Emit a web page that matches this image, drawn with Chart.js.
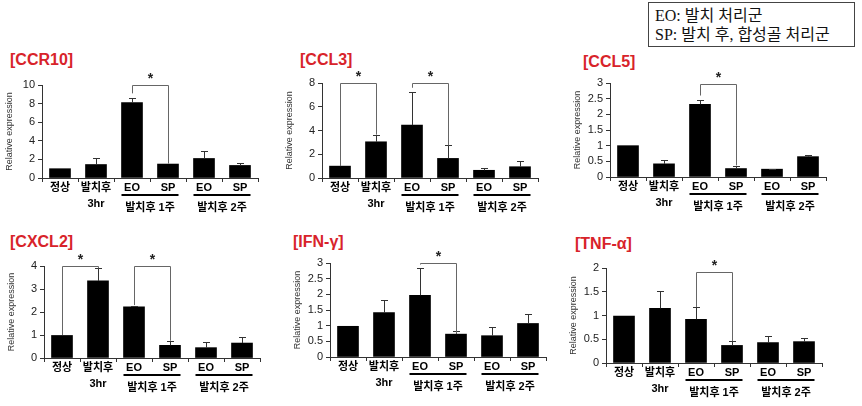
<!DOCTYPE html>
<html>
<head>
<meta charset="utf-8">
<script src="https://cdn.jsdelivr.net/npm/chart.js@4.4.0/dist/chart.umd.min.js"></script>
<style>
  body { margin: 0; background: #fff; }
  #wrap { position: relative; width: 862px; height: 406px; overflow: hidden; }
  #wrap canvas { position: absolute; }
  .ttl { position: absolute; color: #d8232a; font: bold 16px 'Liberation Sans', Arial, sans-serif; line-height: 1; white-space: nowrap; }
  #legendBox {
    position: absolute; left: 648px; top: 2px; width: 199px; height: 39px;
    border: 1px solid #444; padding: 3px 0 1px 6px;
    font: 16px 'Liberation Serif', 'Noto Sans CJK KR', serif; line-height: 19px; color: #111;
    white-space: nowrap;
  }
</style>
</head>
<body>
<div id="wrap">
  <div id="legendBox">EO: 발치 처리군<br>SP: 발치 후, 합성골 처리군</div>
  <div class="ttl" style="left:10px;top:52px">[CCR10]</div>
  <div class="ttl" style="left:300px;top:52px">[CCL3]</div>
  <div class="ttl" style="left:583px;top:54px">[CCL5]</div>
  <div class="ttl" style="left:10px;top:234px">[CXCL2]</div>
  <div class="ttl" style="left:293px;top:234px">[IFN-γ]</div>
  <div class="ttl" style="left:575px;top:236px">[TNF-α]</div>
</div>
<script>
// categories on every x axis, groups are underlined below
const categories = ['정상', ['발치후', '3hr'], 'EO', 'SP', 'EO', 'SP'];
const groupLabels = ['발치후 1주', '발치후 2주'];

// means and upper error bars
const ccr10Mean = [1.0, 1.45, 8.1, 1.5, 2.1, 1.35];
const ccr10Err  = [0, 0.75, 0.5, 0, 0.75, 0.3];
const ccl3Mean  = [1.0, 3.05, 4.45, 1.65, 0.65, 0.95];
const ccl3Err   = [0, 0.6, 2.8, 1.1, 0.2, 0.5];
const ccl5Mean  = [1.0, 0.42, 2.32, 0.27, 0.25, 0.65];
const ccl5Err   = [0, 0.13, 0.13, 0.08, 0.02, 0.04];
const cxcl2Mean = [0.98, 3.35, 2.22, 0.55, 0.45, 0.65];
const cxcl2Err  = [0, 0.55, 0.05, 0.2, 0.25, 0.27];
const ifngMean  = [0.98, 1.42, 1.97, 0.73, 0.68, 1.07];
const ifngErr   = [0, 0.4, 0.87, 0.1, 0.29, 0.3];
const tnfaMean  = [0.99, 1.15, 0.92, 0.37, 0.43, 0.45];
const tnfaErr   = [0, 0.37, 0.25, 0.09, 0.13, 0.08];

// significance brackets: [from bar, to bar, bracket level, left leg end, right leg end]
const ccr10Sig = [[2, 3, 10, 9.1, 1.55]];
const ccl3Sig  = [[0, 1, 8, 1.0, 3.65], [2, 3, 8, 7.6, 2.75]];
const ccl5Sig  = [[2, 3, 2.97, 2.6, 0.37]];
const cxcl2Sig = [[0, 1, 4, 1.0, 3.9], [2, 3, 4, 2.3, 0.75]];
const ifngSig  = [[2, 3, 3, 2.95, 0.75]];
const tnfaSig  = [[2, 3, 1.92, 1.18, 0.46]];

// y axis [max, step]
const yAxes = [[10, 2], [8, 2], [3, 0.5], [4, 1], [3, 0.5], [2, 0.5]];

const series = [
    [ccr10Mean, ccr10Err, ccr10Sig],
    [ccl3Mean, ccl3Err, ccl3Sig],
    [ccl5Mean, ccl5Err, ccl5Sig],
    [cxcl2Mean, cxcl2Err, cxcl2Sig],
    [ifngMean, ifngErr, ifngSig],
    [tnfaMean, tnfaErr, tnfaSig],
];

// where each plot area sits on the page: axis left, plot top, plot height
const boxes = [[42, 85, 93], [322, 83, 95], [610, 83, 94], [44, 266, 92], [330, 263, 94], [606, 268, 95]];

Chart.defaults.font.family = "'Liberation Sans', 'Noto Sans CJK KR', Arial, sans-serif";

const extras = {
    id: 'extras',
    afterDatasetsDraw(chart) {
        const ctx = chart.ctx;
        const x = chart.scales.x, y = chart.scales.y;
        const bars = chart.getDatasetMeta(0).data;
        const { mean, err, sig } = chart.options.plugins.extras;
        ctx.save();
        // error bars (upper half only)
        ctx.strokeStyle = '#333';
        ctx.lineWidth = 1;
        mean.forEach((m, i) => {
            if (!err[i]) return;
            const px = Math.round(x.getPixelForValue(i)) + 0.5;
            const yt = Math.round(y.getPixelForValue(m + err[i])) + 0.5;
            const yb = y.getPixelForValue(m);
            ctx.beginPath();
            ctx.moveTo(px, yb);
            ctx.lineTo(px, yt);
            ctx.moveTo(px - 3.5, yt);
            ctx.lineTo(px + 3.5, yt);
            ctx.stroke();
        });
        // brackets with stars
        ctx.strokeStyle = '#666';
        sig.forEach(s => {
            const x1 = Math.round(x.getPixelForValue(s[0])) + 0.5;
            const x2 = Math.round(x.getPixelForValue(s[1])) + 0.5;
            const yl = Math.round(y.getPixelForValue(s[2])) + 0.5;
            ctx.beginPath();
            ctx.moveTo(x1, y.getPixelForValue(s[3]));
            ctx.lineTo(x1, yl);
            ctx.lineTo(x2, yl);
            ctx.lineTo(x2, y.getPixelForValue(s[4]));
            ctx.stroke();
            ctx.fillStyle = '#222';
            ctx.font = "bold 14px 'Liberation Sans', Arial, sans-serif";
            ctx.textAlign = 'center';
            ctx.textBaseline = 'top';
            ctx.fillText('*', (x1 + x2) / 2, yl - 13);
        });
        // group underline and label
        ctx.fillStyle = '#000';
        ctx.font = "bold 11px 'Liberation Sans', 'Noto Sans CJK KR', sans-serif";
        ctx.textAlign = 'center';
        ctx.textBaseline = 'middle';
        groupLabels.forEach((g, k) => {
            const a = bars[2 + 2 * k], b = bars[3 + 2 * k];
            const lx = a.x - a.width / 2, rx = b.x + b.width / 2;
            ctx.fillRect(lx, x.top + 16, rx - lx, 2);
            ctx.fillText(g, (a.x + b.x) / 2, x.top + 30);
        });
        ctx.restore();
    }
};

boxes.forEach((box, n) => {
    const [mean, err, sig] = series[n];
    const [ymax, ystep] = yAxes[n];
    const canvas = document.createElement('canvas');
    canvas.width = 262;
    canvas.height = 22 + box[2] + 40;
    canvas.style.left = (box[0] - 42) + 'px';
    canvas.style.top = (box[1] - 22) + 'px';
    document.getElementById('wrap').appendChild(canvas);

    new Chart(canvas, {
        type: 'bar',
        data: {
            labels: categories,
            datasets: [{
                data: mean,
                backgroundColor: '#000',
                barThickness: 21,
            }]
        },
        options: {
            responsive: false,
            animation: false,
            layout: { padding: { top: 22, right: 4, left: 0, bottom: 0 } },
            plugins: {
                legend: { display: false },
                tooltip: { enabled: false },
                extras: { mean: mean, err: err, sig: sig },
            },
            scales: {
                x: {
                    offset: true,
                    grid: { offset: true, drawOnChartArea: false, tickLength: 4, color: '#333' },
                    border: { color: '#333' },
                    ticks: {
                        color: '#000', padding: -2, autoSkip: false, maxRotation: 0,
                        font: { size: 11, weight: 'bold', lineHeight: 1.45 }
                    },
                    afterFit: s => { s.height = 40; }
                },
                y: {
                    min: 0,
                    max: ymax,
                    ticks: { stepSize: ystep, autoSkip: false, color: '#222', padding: 3, font: { size: 11 },
                        callback: v => String(+v.toFixed(2)) },
                    grid: { drawOnChartArea: false, tickLength: 4, color: '#333' },
                    border: { color: '#333' },
                    title: { display: true, text: 'Relative expression', color: '#333',
                        font: { size: 9 }, padding: { top: 4, bottom: 0 } },
                    afterFit: s => { s.width = 42; }
                }
            }
        },
        plugins: [extras]
    });
});
</script>
</body>
</html>
